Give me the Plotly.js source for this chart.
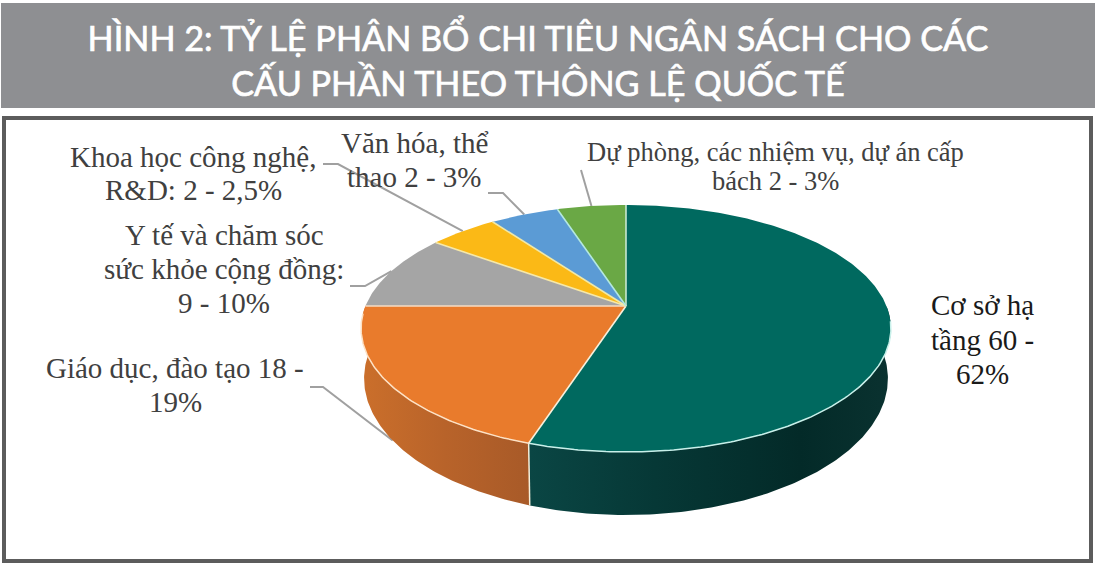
<!DOCTYPE html>
<html><head><meta charset="utf-8">
<script src="https://cdn.plot.ly/plotly-3.0.1.min.js"></script>
<style>html,body{margin:0;padding:0;background:#fff}#chart{width:1096px;height:569px}</style>
</head><body><div id="chart"></div>
<script>
// ---- data ----
const categories = ["Cơ sở hạ tầng", "Giáo dục, đào tạo", "Y tế và chăm sóc sức khỏe cộng đồng", "Khoa học công nghệ, R&D", "Văn hóa, thể thao", "Dự phòng, các nhiệm vụ, dự án cấp bách"];
const shares = [55, 20, 10, 5, 5, 5];
const sliceColors = ["#00695f", "#e97b2c", "#a5a5a5", "#fbb916", "#5b9bd5", "#6aa845"];
const spokeColors = ["#c8e8d0", "#f7f0dc", "#f6dcc4", "#f6e8a8", "#f0e8a8", "#b4e8e0"];
const labelLines = [
  ["Cơ sở hạ", "tầng 60 -", "62%"],
  ["Giáo dục, đào tạo 18 -", "19%"],
  ["Y tế và chăm sóc", "sức khỏe cộng đồng:", "9 - 10%"],
  ["Khoa học công nghệ,", "R&D: 2 - 2,5%"],
  ["Văn hóa, thể", "thao 2 - 3%"],
  ["Dự phòng, các nhiệm vụ, dự án cấp", "bách 2 - 3%"]
];
const labelX = [982, 175, 224, 193, 414, 775];
const labelTopY = [305, 368, 235, 157, 143, 152];
const labelStep = [34.5, 34, 34, 33, 34, 29];
const labelSize = [29, 29, 29, 29, 29, 26.5];
const labelColors = ["#1a1a1a", "#404040", "#404040", "#404040", "#404040", "#404040"];
const titleText = "HÌNH 2: TỶ LỆ PHÂN BỔ CHI TIÊU NGÂN SÁCH CHO CÁC<br>CẤU PHẦN THEO THÔNG LỆ QUỐC TẾ";
const titleWidth = 901, titleCenter = 538;

// ---- projection of the tilted disc onto the pixel-scaled axes ----
const apex = {x: 626, y: 306}, A = 260.5, B = 119.4, K = 0.182;
const topCy = 328, botCy = 378, sx = 262 / 265, sy = 137 / 124;
function rim(pct) {
  const t = pct / 100 * 2 * Math.PI, u = Math.sin(t), v = -Math.cos(t), d = 1 - K * v;
  return {x: apex.x + A * u / d, y: apex.y + B * v / d};
}
function bottom(p) { return {x: apex.x + (p.x - apex.x) * sx, y: botCy + (p.y - topCy) * sy}; }
function arc(a, b, f) {
  const out = [], n = Math.max(2, Math.ceil(Math.abs(b - a) / 0.2));
  for (let i = 0; i <= n; i++) { const p = rim(a + (b - a) * i / n); out.push(f ? f(p) : p); }
  return out;
}
function line(pts, color, width) {
  return {type: "scatter", mode: "lines", x: pts.map(p => p.x), y: pts.map(p => p.y),
    line: {color: color, width: width}, hoverinfo: "skip", showlegend: false};
}
function poly(pts, color, name, gradient) {
  const t = {type: "scatter", mode: "lines", fill: "toself", name: name, x: pts.map(p => p.x), y: pts.map(p => p.y),
    line: {width: 0, color: color}, fillcolor: color, hoverinfo: "name", showlegend: false};
  if (gradient) t.fillgradient = {type: "horizontal", colorscale: gradient};
  return t;
}

const edges = [0];
shares.forEach(s => edges.push(edges[edges.length - 1] + s));
const mids = shares.map((s, i) => edges[i] + s / 2);

const traces = [];
// leader lines, behind the pie
const elbows = [null, [[310, 387], [323, 387]], [[350, 286], [365, 286]], [[323, 164], [338, 164]], [[488, 193], [503, 193]], [[581, 170], [581, 170]]];
elbows.forEach((e, i) => {
  if (!e) return;
  const end = i === 1 ? bottom(rim(mids[i])) : rim(mids[i]);
  traces.push(line(e.map(p => ({x: p[0], y: p[1]})).concat([end]), "#a0a0a0", 2));
});
// side walls
const wallStart = 25, split = edges[1], wallEnd = 75;
const orangeWall = arc(split, wallEnd).concat(arc(wallEnd, split, bottom));
const tealWall = arc(wallStart, split).concat(arc(split, wallStart, bottom));
traces.push(poly(orangeWall, "#b8632a", categories[1], [[0, "#cb6f2b"], [0.5, "#b8632a"], [1, "#a85a28"]]));
traces.push(poly(tealWall, "#073432", categories[0], [[0, "#0a4644"], [0.35, "#063836"], [0.75, "#032a28"], [1, "#0a3230"]]));
// top faces
shares.forEach((s, i) => {
  traces.push(poly([apex].concat(arc(edges[i], edges[i + 1])).concat([apex]), sliceColors[i], categories[i]));
});
// highlights on front rim and separators
traces.push(line(arc(wallStart + 2, split), "#c8f0ea", 1.5));
traces.push(line(arc(split, wallEnd - 1), "#fde2c6", 1.5));
traces.push(line([rim(split), bottom(rim(split))], "#f5f0dc", 1.5));
edges.slice(0, -1).forEach((e, i) => traces.push(line([apex, rim(e)], spokeColors[i], 1.6)));

const annotations = [];
labelLines.forEach((lines, i) => lines.forEach((t, j) => annotations.push({
  text: t, x: labelX[i], y: labelTopY[i] + j * labelStep[i], xref: "x", yref: "y", showarrow: false,
  xanchor: "center", yanchor: "middle", align: "center",
  font: {family: "'Liberation Serif',serif", size: labelSize[i], color: labelColors[i]}
})));

const layout = {
  width: 1096, height: 569, margin: {l: 0, r: 0, t: 0, b: 0},
  paper_bgcolor: "#ffffff", plot_bgcolor: "#ffffff", showlegend: false,
  xaxis: {range: [0, 1096], visible: false, fixedrange: true},
  yaxis: {range: [569, 0], visible: false, fixedrange: true},
  title: {text: titleText, x: titleCenter / 1096, xanchor: "center", y: 1 - 51 / 569, yanchor: "middle",
    font: {family: "Lato,'Noto Sans',sans-serif", size: 35, color: "#ffffff"}},
  shapes: [
    {type: "rect", layer: "below", xref: "x", yref: "y", x0: 1, y0: 3, x1: 1095, y1: 108, fillcolor: "#8e8f92", line: {width: 0}},
    {type: "rect", layer: "below", xref: "x", yref: "y", x0: 4, y0: 118, x1: 1091, y1: 561, fillcolor: "#ffffff", line: {color: "#5c5c5c", width: 4}}
  ],
  annotations: annotations
};
Plotly.newPlot("chart", traces, layout, {staticPlot: true, displayModeBar: false}).then(() => {
  // the reference title is set in a condensed face: narrow the real text horizontally to its measured width
  const t = document.querySelector("#chart .gtitle");
  if (t) {
    const w = t.getBBox().width, s = Math.min(1, titleWidth / w);
    t.setAttribute("transform", "translate(" + titleCenter + ",0) scale(" + s + ",1) translate(" + (-titleCenter) + ",0)");
    t.style.stroke = "#ffffff";
    t.style.strokeWidth = "0.7px";
  }
});
</script></body></html>
